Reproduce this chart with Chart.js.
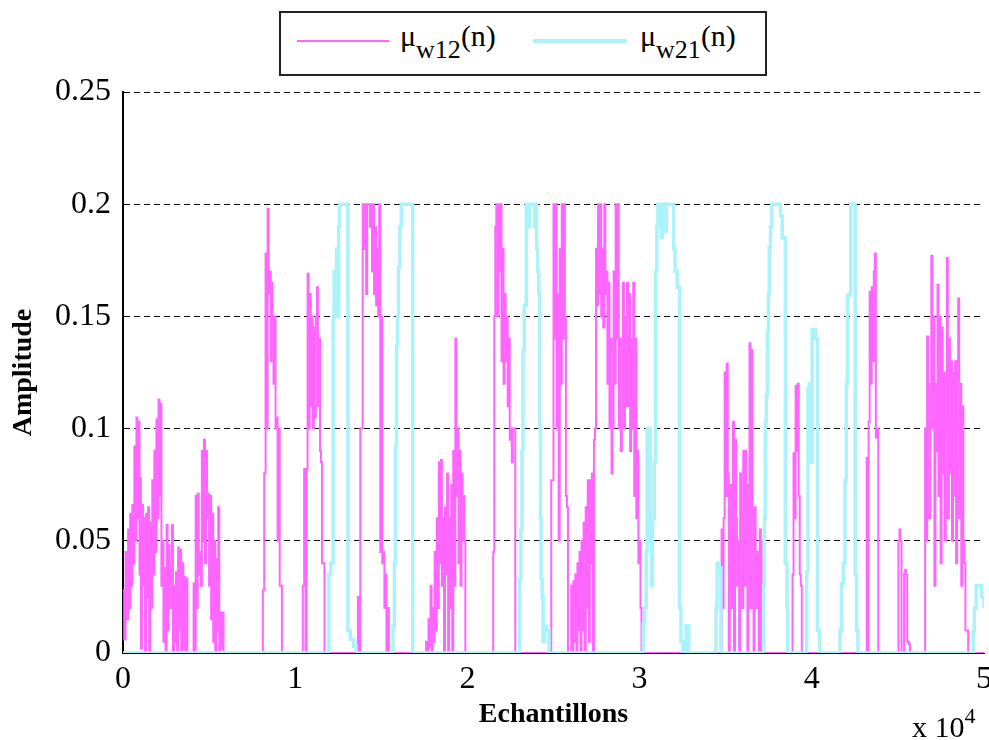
<!DOCTYPE html>
<html>
<head>
<meta charset="utf-8">
<script src="https://cdn.jsdelivr.net/npm/chart.js@4.4.0/dist/chart.umd.min.js"></script>
<style>
  body { margin: 0; background: #fff; }
  #wrap { position: relative; width: 989px; height: 740px; font-family: 'Liberation Serif', 'Times New Roman', serif; color: #000; }
  #legend { position: absolute; left: 279px; top: 11px; width: 484px; height: 61px; border: 2px solid #222; background: #fff; }
  .swatch { position: absolute; }
  .lab { position: absolute; font-family: 'Liberation Serif', 'Times New Roman', serif; font-size: 30px; line-height: 30px; white-space: nowrap; }
  .lab sub { font-size: 26px; vertical-align: -12px; line-height: 0; }
  #exp { position: absolute; left: 912px; top: 712px; font-family: 'Liberation Serif', 'Times New Roman', serif; font-size: 30px; line-height: 30px; white-space: nowrap; }
  #exp sup { font-size: 22px; vertical-align: 14px; line-height: 0; }
</style>
</head>
<body>
<div id="wrap">
  <canvas id="chart" width="989" height="740"></canvas>
  <div id="legend"></div>
  <div id="exp">x 10<sup>4</sup></div>
</div>
<script>
// legend labels (sub part shown as subscript)
const seriesNames = [['μ', 'w12', '(n)'], ['μ', 'w21', '(n)']];
const seriesColors = ['rgb(255,102,255)', 'rgb(172,242,250)'];

const xTickLabels = ['0', '1', '2', '3', '4', '5'];
const yTickLabels = ['0', '0.05', '0.1', '0.15', '0.2', '0.25'];

// [sample, amplitude], held until the next sample
const w12 = [
  [0,0.028],[70,0.006],[150,0.045],[230,0.015],[300,0.055],[360,0.02],[420,0.062],[480,0.03],[540,0.066],[600,0.04],
  [660,0.092],[720,0.05],[780,0.105],[840,0.06],[900,0.103],[960,0.035],[1000,0.078],[1040,0.002],[1100,0.066],[1160,0.03],
  [1220,0.06],[1280,0],[1340,0.062],[1400,0.025],[1460,0.065],[1520,0],[1580,0.058],[1640,0.02],[1700,0.077],[1760,0.035],
  [1820,0.09],[1880,0.045],[1940,0.104],[2000,0.06],[2060,0.113],[2120,0.07],[2170,0.111],[2230,0.03],[2290,0.05],[2350,0.005],
  [2410,0.038],[2470,0],[2530,0.057],[2590,0.01],[2650,0.048],[2710,0.02],[2780,0.04],[2840,0.057],[2900,0],[2960,0.03],
  [3020,0.005],[3080,0.036],[3140,0],[3200,0.047],[3260,0.01],[3320,0.046],[3380,0],[3440,0.04],[3500,0.002],[3560,0.034],
  [3620,0],[3680,0.033],[3740,0],[3810,0],
  [4050,0],[4100,0.031],[4160,0],[4220,0.07],[4280,0.02],[4340,0.071],[4400,0.035],[4460,0.045],[4520,0.03],[4580,0.09],
  [4640,0.05],[4700,0.095],[4760,0.04],[4820,0.09],[4880,0.06],[4940,0.071],[5000,0.03],[5060,0.07],[5120,0.015],[5180,0.062],
  [5240,0.005],[5300,0.05],[5360,0],[5420,0.042],[5480,0.01],[5530,0.065],[5590,0],[5650,0.018],[5710,0.002],[5770,0.018],[5840,0],
  [8080,0],[8120,0.028],[8200,0.08],[8280,0.178],[8350,0.1],[8400,0.198],[8460,0.16],[8520,0.17],[8580,0.13],[8620,0.165],
  [8680,0.15],[8740,0.12],[8800,0.15],[8860,0.1],[8920,0.105],[8980,0.05],[9040,0.1],[9100,0.03],[9160,0.03],[9230,0],
  [10400,0],[10440,0.03],[10520,0.082],[10600,0],[10660,0.082],[10720,0.169],[10780,0.1],[10840,0.16],[10900,0.11],[10960,0.15],
  [11020,0.1],[11080,0.145],[11140,0.105],[11200,0.15],[11260,0.163],[11320,0.11],[11380,0.14],[11440,0.09],[11500,0.085],[11560,0.04],
  [11620,0.04],[11700,0],
  [13600,0],[13640,0.025],[13720,0],[13780,0.1],[13860,0.1],[13920,0.2],[14000,0.18],[14060,0.2],[14120,0.16],[14180,0.2],
  [14260,0.2],[14340,0.19],[14400,0.2],[14460,0.17],[14520,0.2],[14580,0.16],[14640,0.19],[14700,0.155],[14760,0.18],[14820,0.15],
  [14880,0.2],[14940,0.045],[15000,0.15],[15060,0.04],[15120,0.045],[15180,0.02],[15240,0.035],[15300,0],[15360,0.02],[15440,0],
  [17550,0],[17600,0.005],[17680,0],[17740,0.015],[17800,0.003],[17860,0.03],[17920,0],[17980,0.02],[18040,0.005],[18100,0.045],
  [18160,0.01],[18220,0.06],[18280,0.02],[18340,0.085],[18400,0.04],[18460,0.086],[18520,0.03],[18580,0.06],[18640,0],[18700,0.065],
  [18760,0.035],[18820,0.08],[18880,0],[18940,0.06],[19000,0.02],[19060,0.075],[19120,0],[19180,0.09],[19240,0.03],[19300,0.14],
  [19360,0.07],[19420,0.1],[19480,0.04],[19540,0.09],[19600,0.03],[19660,0.08],[19720,0.05],[19780,0.07],[19840,0.05],[19880,0],
  [21450,0],[21500,0.045],[21560,0.15],[21620,0.19],[21680,0.2],[21740,0.15],[21800,0.2],[21860,0.17],[21920,0.2],[21980,0.13],
  [22040,0.18],[22100,0.12],[22160,0.16],[22220,0.13],[22280,0.15],[22340,0.11],[22400,0.14],[22460,0.095],[22520,0.1],[22580,0.085],
  [22640,0.1],[22700,0.1],[22780,0],
  [24830,0],[24870,0.077],[24950,0.077],[25000,0.2],[25060,0.14],[25120,0.2],[25180,0.1],[25240,0.16],[25300,0.05],[25360,0.18],
  [25420,0.12],[25480,0.2],[25540,0.14],[25600,0.2],[25660,0.15],[25720,0.07],[25780,0.065],[25840,0],
  [25990,0],[26030,0.03],[26090,0],[26150,0.032],[26210,0.005],[26270,0.035],[26330,0],[26390,0.04],[26450,0.01],[26510,0.045],
  [26570,0],[26630,0.05],[26690,0.01],[26750,0.058],[26810,0],[26870,0.065],[26930,0.02],[26990,0.077],[27050,0.005],[27110,0.077],
  [27170,0.04],[27230,0.08],[27290,0],[27350,0.095],[27410,0.1],[27470,0.18],[27530,0.155],[27590,0.2],[27650,0.16],[27710,0.2],
  [27770,0.15],[27830,0.18],[27890,0.145],[27950,0.2],[28010,0.16],[28070,0.17],[28130,0.12],[28190,0.165],[28250,0.1],[28310,0.14],
  [28370,0.08],[28430,0.1],[28490,0.17],[28550,0.12],[28610,0.2],[28670,0.14],[28730,0.2],[28790,0.1],[28850,0.14],[28910,0.09],
  [28970,0.11],[29030,0.165],[29090,0.1],[29150,0.15],[29210,0.11],[29270,0.165],[29330,0.11],[29390,0.16],[29450,0.09],[29510,0.14],
  [29570,0.1],[29630,0.165],[29690,0.07],[29750,0.14],[29810,0.06],[29870,0.09],[29930,0.04],[29990,0.05],[30050,0.02],[30110,0],
  [34700,0],[34760,0.055],[34820,0.02],[34880,0.06],[34940,0.125],[35000,0.07],[35060,0.129],[35120,0.08],[35180,0],[35240,0.03],
  [35300,0.075],[35360,0.02],[35420,0.103],[35480,0],[35540,0.095],[35600,0.06],[35660,0.03],[35720,0.05],[35780,0],[35840,0.08],
  [35900,0.045],[35960,0.02],[36020,0.09],[36080,0.03],[36140,0.09],[36200,0.075],[36260,0],[36320,0.055],[36380,0.138],[36440,0.02],
  [36500,0.135],[36560,0.06],[36620,0],[36680,0.065],[36740,0.04],[36800,0.02],[36860,0.045],[36920,0],[36980,0.055],[37040,0.05],[37090,0],
  [38850,0],[38880,0.035],[38940,0.089],[39000,0.06],[39060,0.119],[39120,0.09],[39180,0.12],[39240,0.07],[39300,0.035],[39360,0.03],[39420,0],
  [43150,0],[43190,0.087],[43250,0],[43300,0.103],[43360,0.161],[43420,0.12],[43480,0.163],[43540,0.13],[43600,0.17],[43660,0.178],
  [43720,0.096],[43780,0.1],[43860,0],
  [44990,0],[45030,0.05],[45090,0.055],[45150,0.05],[45210,0],[45330,0],[45360,0.035],[45420,0.037],[45480,0.035],[45540,0.005],
  [45640,0.004],[45700,0],
  [46540,0],[46580,0.1],[46640,0.05],[46700,0.141],[46760,0.1],[46820,0.06],[46880,0.12],[46940,0.177],[47000,0.1],[47060,0.15],
  [47120,0.03],[47180,0.12],[47240,0.09],[47300,0.164],[47360,0.07],[47420,0.15],[47480,0.04],[47540,0.145],[47600,0.08],[47660,0.125],
  [47720,0.05],[47780,0.1],[47840,0.176],[47900,0.06],[47960,0.14],[48020,0.08],[48080,0.13],[48140,0.05],[48200,0.125],[48260,0.07],
  [48320,0.13],[48380,0.04],[48440,0.13],[48500,0.158],[48560,0.06],[48620,0.12],[48680,0.03],[48740,0.11],[48800,0.05],[48860,0.04],
  [48920,0.01],[48980,0.01],[49080,0],[50000,0]
];

const w21 = [
  [0,0],
  [11900,0],[11960,0.035],[12060,0.04],[12140,0.04],[12200,0.15],[12260,0.17],[12330,0.155],[12400,0.18],[12460,0.15],[12520,0.19],
  [12580,0.2],[13060,0.01],[13200,0.006],[13400,0.003],[13540,0],
  [15620,0],[15680,0.012],[15760,0.04],[15820,0.092],[15880,0.137],[15940,0.15],[16000,0.172],[16080,0.19],[16160,0.2],[16820,0],
  [22990,0],[23030,0.033],[23110,0.055],[23170,0.09],[23230,0.135],[23300,0.155],[23420,0.2],[23520,0.19],[23600,0.2],[23900,0.19],
  [23960,0.2],[24020,0.18],[24080,0.17],[24140,0.16],[24200,0.1],[24240,0.06],[24280,0.033],[24340,0.025],[24400,0.005],[24480,0.012],
  [24600,0.01],[24740,0],
  [30180,0],[30210,0.013],[30300,0.02],[30380,0.045],[30440,0.1],[30500,0.06],[30560,0.1],[30620,0.05],[30690,0.03],[30750,0.06],
  [30850,0.085],[30930,0.17],[31000,0.19],[31060,0.2],[31250,0.185],[31320,0.2],[31500,0.188],[31560,0.2],[31980,0.18],[32060,0.17],
  [32180,0.163],[32320,0.02],[32400,0.005],[32520,0],[32700,0.012],[32860,0],
  [34440,0.02],[34500,0.04],[34620,0.038],[34720,0],
  [37200,0.03],[37250,0.06],[37300,0.103],[37360,0.115],[37420,0.143],[37480,0.16],[37530,0.181],[37600,0.19],[37680,0.2],[38180,0.195],
  [38280,0.185],[38460,0.04],[38560,0.02],[38600,0],
  [39700,0.036],[39780,0.118],[39880,0.12],[39960,0.085],[40020,0.144],[40200,0.14],[40330,0.01],[40460,0],
  [41640,0.01],[41720,0.031],[41830,0.04],[41930,0.077],[42000,0.12],[42060,0.159],[42160,0.16],[42260,0.2],[42520,0.035],[42600,0.01],
  [42680,0],
  [49380,0.01],[49440,0.02],[49540,0.03],[49860,0.025],[50000,0.02]
];

const FONT = "'Liberation Serif', 'Times New Roman', serif";

// html legend, so the subscripts can be real text
const legend = document.getElementById('legend');
const slots = [{line: 16, w: 92, h: 2, text: 119}, {line: 252, w: 94, h: 4, text: 359}];
seriesNames.forEach((n, i) => {
  const s = slots[i];
  const sw = document.createElement('div');
  sw.className = 'swatch';
  sw.style.cssText = `left:${s.line}px;top:${28 - s.h / 2}px;width:${s.w}px;height:${s.h}px;background:${seriesColors[i]}`;
  legend.appendChild(sw);
  const lab = document.createElement('div');
  lab.className = 'lab';
  lab.style.left = s.text + 'px';
  lab.style.top = '8px';
  lab.innerHTML = `${n[0]}<sub>${n[1]}</sub>${n[2]}`;
  legend.appendChild(lab);
});

new Chart(document.getElementById('chart').getContext('2d'), {
  type: 'line',
  data: {
    datasets: [
      {
        label: seriesNames[0].join(''),
        data: w12.map(p => ({x: p[0], y: p[1]})),
        borderColor: seriesColors[0],
        borderWidth: 2,
        stepped: true,
        pointRadius: 0,
        order: 1
      },
      {
        label: seriesNames[1].join(''),
        data: w21.map(p => ({x: p[0], y: p[1]})),
        borderColor: seriesColors[1],
        borderWidth: 3.5,
        stepped: true,
        pointRadius: 0,
        order: 0
      }
    ]
  },
  options: {
    responsive: false,
    animation: false,
    devicePixelRatio: 1,
    layout: {padding: {top: 92, right: 5, left: 0, bottom: 0}},
    plugins: {legend: {display: false}, tooltip: {enabled: false}},
    scales: {
      x: {
        type: 'linear', min: 0, max: 50000,
        ticks: {stepSize: 10000, maxRotation: 0, padding: 7, color: '#000',
                font: {family: FONT, size: 32},
                callback: (v, i) => xTickLabels[i]},
        grid: {display: false, drawTicks: false},
        border: {display: true, color: '#000', width: 1},
        title: {display: true, text: 'Echantillons', color: '#000',
                font: {family: FONT, size: 28, weight: 'bold'}, padding: {top: 0, bottom: 8}},
        afterFit: s => { s.height = 87; s.paddingLeft = 0; s.paddingRight = 0; }
      },
      y: {
        min: 0, max: 0.25,
        ticks: {stepSize: 0.05, padding: 12, color: '#000',
                font: {family: FONT, size: 32},
                callback: (v, i) => yTickLabels[i]},
        grid: {color: '#000', lineWidth: 1, drawTicks: false},
        border: {display: true, color: '#000', width: 2, dash: [6, 4]},
        title: {display: true, text: 'Amplitude', color: '#000',
                font: {family: FONT, size: 28, weight: 'bold'}, padding: {top: 7, bottom: 0}},
        afterFit: s => { s.width = 123; s.paddingTop = 0; s.paddingBottom = 0; }
      }
    }
  }
});
</script>
</body>
</html>
